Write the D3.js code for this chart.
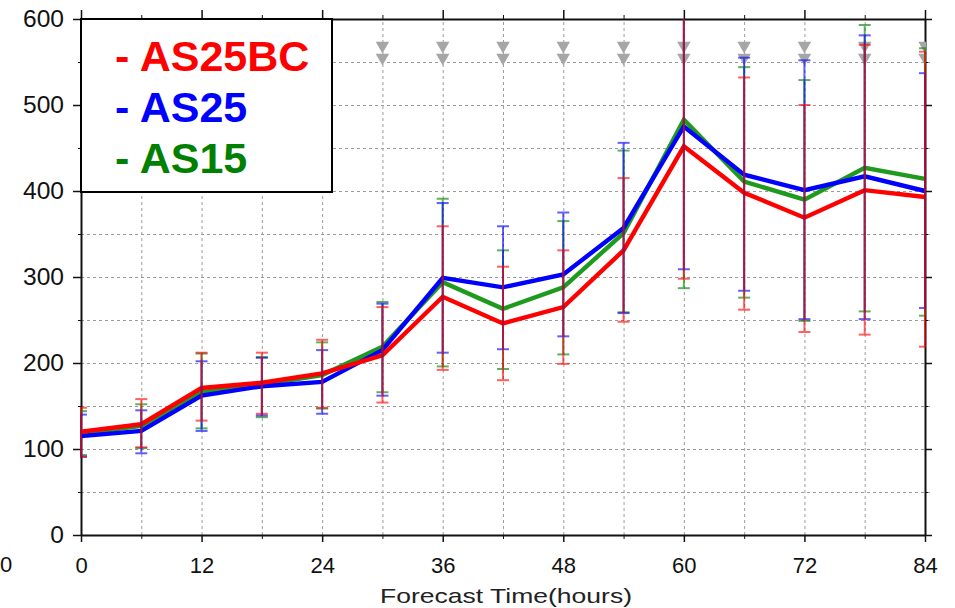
<!DOCTYPE html>
<html><head><meta charset="utf-8">
<script src="https://cdn.jsdelivr.net/npm/d3@7"></script>
<style>
body{margin:0;background:#fff}
svg{display:block;font-family:"Liberation Sans",Arial,Helvetica,sans-serif}
</style></head><body><svg id="c" width="955" height="608"></svg>
<script>
// ---- data ----
const hours = [0,6,12,18,24,30,36,42,48,54,60,66,72,78,84];
const xTickLabels = [0,12,24,36,48,60,72,84];
const yTickLabels = [0,100,200,300,400,500,600];
const seriesNames = ["AS25BC","AS25","AS15"];

const as25bc   = [120,129,171,177,188,209,277,246,265,331,452,398,369,401,393];
const as25bcHi = [148,158,212,212,227,265,359,312,331,415,650,532,500,570,562];
const as25bcLo = [ 91,102,133,141,148,154,192,180,199,248,298,262,236,233,219];

const as25     = [115,121,162,173,178,215,299,288,303,357,475,419,401,417,400];
const as25Hi   = [140,145,202,206,215,269,386,359,375,456,650,555,552,581,537];
const as25Lo   = [ 91, 95,121,139,141,162,212,216,231,258,309,284,251,251,264];

const as15     = [118,127,166,175,186,219,294,263,288,351,483,411,390,427,414];
const as15Hi   = [144,152,211,207,224,271,391,331,365,447,650,544,529,593,566];
const as15Lo   = [ 93,101,124,137,147,166,196,193,210,259,287,276,249,260,255];

const markerHours  = [30,36,42,48,54,60,66,72,78,84];
const markerLevels = [569,555];

// ---- drawing ----
const svg = d3.select("#c");
const x = d3.scaleLinear().domain([0,84]).range([81,925]);
const y = d3.scaleLinear().domain([0,600]).range([535,19]);
const colors = {AS25BC:"#ff0000", AS25:"#0000ff", AS15:"#008000"};
const lineColors = {AS25BC:"#ff0000", AS25:"#0000ff", AS15:"#1f9a1f"};

const gridHours = d3.range(6,84,6);
const gridVals = d3.range(50,600,50);

// grid
const gx = svg.append("g").attr("transform",`translate(0,${y(0)})`)
  .call(d3.axisBottom(x).tickValues(gridHours).tickSize(-(y(0)-y(600))).tickFormat(""));
gx.select(".domain").remove();
gx.selectAll("line").attr("stroke","#9c9c9c").attr("stroke-dasharray","3,3");
const gy = svg.append("g").attr("transform",`translate(${x(0)},0)`)
  .call(d3.axisLeft(y).tickValues(gridVals).tickSize(-(x(84)-x(0)+5)).tickFormat(""));
gy.select(".domain").remove();
gy.selectAll("line").attr("stroke","#9c9c9c").attr("stroke-dasharray","3,3");

// axes
function styleAxis(g){
  g.select(".domain").attr("stroke","#111").attr("stroke-width",2);
  g.selectAll(".tick line").attr("stroke","#111").attr("stroke-width",1.5);
}
// left
const la = svg.append("g").attr("transform",`translate(${x(0)},0)`)
  .call(d3.axisLeft(y).tickValues(yTickLabels).tickSize(8).tickSizeOuter(0).tickPadding(9));
styleAxis(la);
la.selectAll("text").attr("font-size",23).attr("fill","#111")
  .attr("font-family","Liberation Sans, Arial, sans-serif")
  .style("transform-box","fill-box").style("transform-origin","right center").style("transform","scaleX(1.07)");
svg.append("g").attr("transform",`translate(${x(0)},0)`)
  .call(d3.axisLeft(y).tickValues(gridVals.filter(v=>v%100)).tickSize(3).tickFormat(""))
  .call(g=>{g.select(".domain").remove();g.selectAll("line").attr("stroke","#111");});
// right
const ra = svg.append("g").attr("transform",`translate(${x(84)},0)`)
  .call(d3.axisRight(y).tickValues(yTickLabels).tickSize(7).tickSizeOuter(0).tickFormat(""));
styleAxis(ra);
svg.append("g").attr("transform",`translate(${x(84)},0)`)
  .call(d3.axisRight(y).tickValues(gridVals.filter(v=>v%100)).tickSize(3).tickFormat(""))
  .call(g=>{g.select(".domain").remove();g.selectAll("line").attr("stroke","#111");});
// bottom
const ba = svg.append("g").attr("transform",`translate(0,${y(0)})`)
  .call(d3.axisBottom(x).tickValues(xTickLabels).tickSize(7).tickSizeOuter(0));
styleAxis(ba);
ba.selectAll("text").attr("font-size",22).attr("fill","#111").attr("y",22)
  .attr("font-family","Liberation Sans, Arial, sans-serif");
svg.append("g").attr("transform",`translate(0,${y(0)})`)
  .call(d3.axisBottom(x).tickValues(gridHours.filter(h=>h%12)).tickSize(4).tickFormat(""))
  .call(g=>{g.select(".domain").remove();g.selectAll("line").attr("stroke","#111");});
// top
const ta = svg.append("g").attr("transform",`translate(0,${y(600)})`)
  .call(d3.axisTop(x).tickValues(xTickLabels).tickSize(9).tickSizeOuter(0).tickFormat(""));
styleAxis(ta);
svg.append("g").attr("transform",`translate(0,${y(600)})`)
  .call(d3.axisTop(x).tickValues(gridHours.filter(h=>h%12)).tickSize(4).tickFormat(""))
  .call(g=>{g.select(".domain").remove();g.selectAll("line").attr("stroke","#111");});

// stray label at far left
svg.append("text").attr("x",0).attr("y",572).attr("font-size",22).attr("fill","#111").text("0");

// axis title
svg.append("text").attr("x",506).attr("y",603).attr("text-anchor","middle")
  .attr("font-size",21).attr("fill","#222")
  .attr("textLength",252).attr("lengthAdjust","spacingAndGlyphs")
  .text("Forecast  Time(hours)");

// clip
svg.append("clipPath").attr("id","plotclip").append("rect")
  .attr("x",x(0)-1).attr("y",y(600)).attr("width",x(84)-x(0)+2).attr("height",y(0)-y(600));
const plot = svg.append("g").attr("clip-path","url(#plotclip)");

// lines
const series = [
  {name:"AS15", v:as15, hi:as15Hi, lo:as15Lo},
  {name:"AS25", v:as25, hi:as25Hi, lo:as25Lo},
  {name:"AS25BC", v:as25bc, hi:as25bcHi, lo:as25bcLo}
];
const line = d3.line().x((d,i)=>x(hours[i])).y(d=>y(d));
series.forEach(s=>{
  plot.append("path").datum(s.v).attr("d",line)
    .attr("fill","none").attr("stroke",lineColors[s.name]).attr("stroke-width",4.4);
});

// triangles
const tri = d3.symbol().type(d3.symbolTriangle).size(78);
markerLevels.forEach(lv=>{
  plot.selectAll(null).data(markerHours).join("path")
    .attr("d",tri).attr("fill","#a6a6a6")
    .attr("transform",h=>`translate(${x(h)},${y(lv)}) rotate(180)`);
});

// error bars
series.forEach(s=>{
  const g = plot.append("g").attr("stroke",colors[s.name]).attr("stroke-width",2).attr("opacity",0.62);
  hours.forEach((h,i)=>{
    const cx = x(h);
    g.append("line").attr("x1",cx).attr("x2",cx).attr("y1",y(s.lo[i])).attr("y2",y(s.hi[i]));
    g.append("line").attr("x1",cx-6).attr("x2",cx+6).attr("y1",y(s.lo[i])).attr("y2",y(s.lo[i]));
    g.append("line").attr("x1",cx-6).attr("x2",cx+6).attr("y1",y(s.hi[i])).attr("y2",y(s.hi[i]));
  });
});

// legend
const lg = svg.append("g");
lg.append("rect").attr("x",x(0)).attr("y",y(600)).attr("width",251).attr("height",173)
  .attr("fill","#fff").attr("stroke","#000").attr("stroke-width",2);
seriesNames.forEach((n,i)=>{
  lg.append("text").attr("x",115).attr("y",71+i*51)
    .attr("font-size",43).attr("font-weight","bold").attr("fill",colors[n])
    .text("- "+n);
});
</script></body></html>
